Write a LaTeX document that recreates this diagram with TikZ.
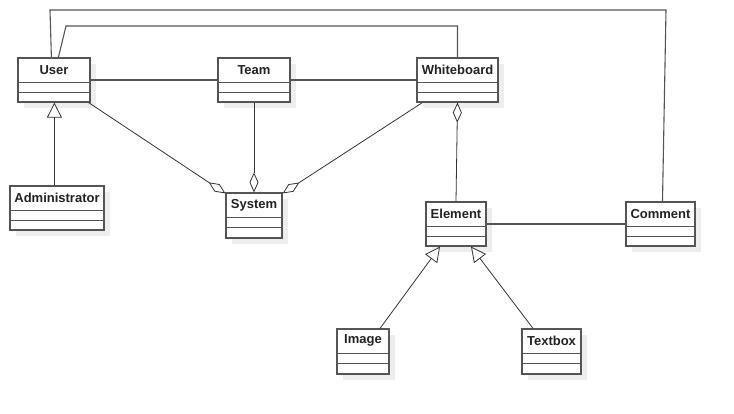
\documentclass[tikz,border=0pt]{standalone}
\usepackage{fontspec}
\setmainfont{Liberation Sans}
\usetikzlibrary{arrows.meta,calc}
\definecolor{linec}{HTML}{555555}
\definecolor{connc}{HTML}{333333}
\definecolor{shadc}{HTML}{EDEDED}
\definecolor{txtc}{HTML}{222222}
\tikzset{
  cls/.style={draw=linec, fill=white, line width=1.2pt, inner sep=0pt},
  clsline/.style={draw=linec, line width=1.2pt},
  lbl/.style={font=\fontsize{13}{15}\selectfont\bfseries, text=txtc, inner sep=0pt},
  conn/.style={draw=connc, line width=0.8pt},
  thick conn/.style={draw=linec, line width=1.1pt},
  gen/.style={conn, -{Triangle[open, length=15pt, width=15pt, fill=white]}},
  agg/.style={conn, -{Diamond[open, length=20pt, width=9pt, fill=white]}},
  aggstart/.style={conn, {Diamond[open, length=20pt, width=9pt, fill=white]}-},
}
\newcommand\umlcls[6]{%
  \fill[shadc] (#2+6,#3+6) rectangle (#2+#4+6,#3+#5+6);
  \node[cls, minimum width=#4pt, minimum height=#5pt] (#1) at (#2+#4/2,#3+#5/2) {};
  \node[lbl] (#1-t) at ($(#1.north)+(0,12.5)$) {#6};
  \draw[clsline] ($(#1.north west)+(0,25)$) -- ($(#1.north east)+(0,25)$);
  \draw[clsline] ($(#1.north west)+(0,35)$) -- ($(#1.north east)+(0,35)$);
}
\begin{document}
\begin{tikzpicture}[x=1pt, y=-1pt]
\useasboundingbox[fill=white] (0,0) rectangle (734,414);
\umlcls{User}{18}{58}{72}{44}{User}
\umlcls{Team}{218}{58}{72}{44}{Team}
\umlcls{Whiteboard}{417}{58}{81}{44}{Whiteboard}
\umlcls{Admin}{10}{186}{94}{44}{Administrator}
\umlcls{System}{226}{193}{56}{45}{System}
\umlcls{Element}{426}{202}{60}{44}{Element}
\umlcls{Comment}{626}{202}{69}{44}{Comment}
\umlcls{Image}{337}{329}{52}{45}{Image}
\umlcls{Textbox}{522}{329}{59}{45}{Textbox}

% top connectors
\coordinate (ua) at ($(User.north west)+(34,0)$);
\coordinate (ub) at ($(User.north west)+(41,0)$);
\coordinate (t1) at (50,10);
\coordinate (t2) at (666,10);
\coordinate (s1) at (66,26);
\draw[thick conn] (ua) -- (t1) -- (t2) -- ($(Comment.north)+(2,0)$);
\draw[thick conn] (ub) -- (s1) -- (s1 -| Whiteboard.north) -- (Whiteboard.north);

% associations
\draw[thick conn] (User.east) -- (Team.west);
\draw[thick conn] (Team.east) -- (Whiteboard.west);
\draw[thick conn] (Element.east) -- (Comment.west);

% generalization
\draw[gen] ($(Admin.north west)+(45,0)$) -- ($(User.south west)+(37,0)$);
\draw[gen] ($(Image.north)+(17,0)$) -- ($(Element.south)+(-16,0)$);
\draw[gen] ($(Textbox.north)+(-18.5,0)$) -- ($(Element.south)+(15,0)$);

% aggregation
\draw[agg] ($(User.south east)+(-2,0)$) -- ($(System.north west)+(0,1)$);
\draw[agg] (Team.south) -- (System.north);
\draw[agg] ($(Whiteboard.south west)+(6,0)$) -- ($(System.north east)+(0,1)$);
\draw[aggstart] (Whiteboard.south) -- (Element.north);
\end{tikzpicture}
\end{document}
